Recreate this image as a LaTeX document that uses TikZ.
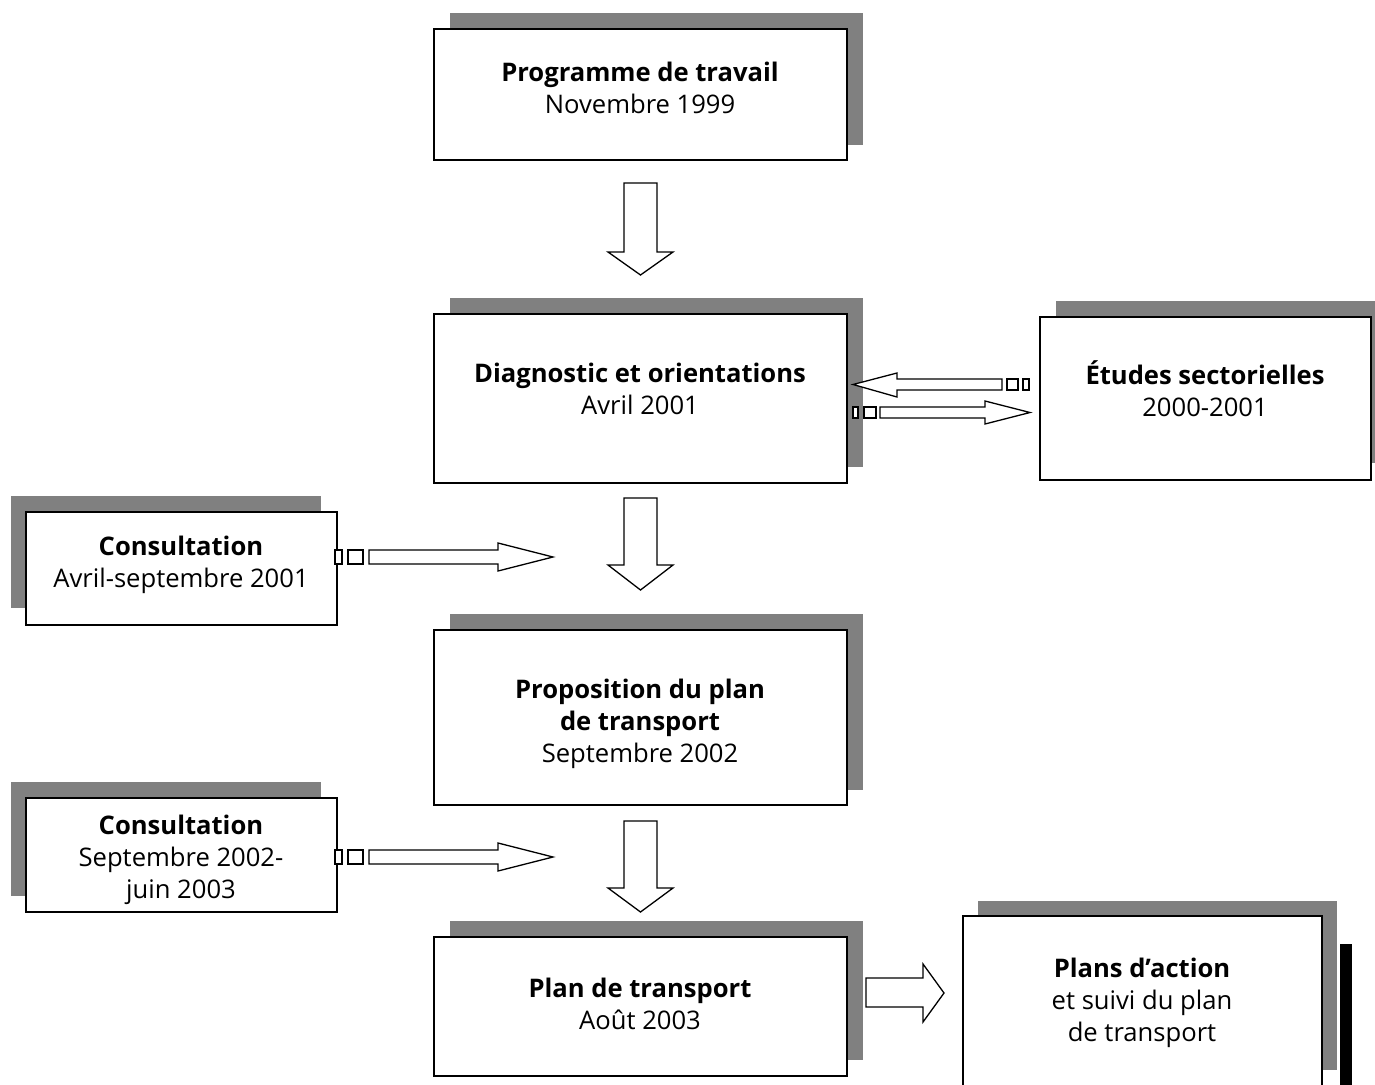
\documentclass[tikz,border=0pt]{standalone}
\usepackage{fontspec}
\setmainfont{Open Sans}
\begin{document}
\begin{tikzpicture}[x=1pt,y=-1pt,
  box/.style={draw=black,line width=1.6pt,fill=white,inner sep=0pt},
  shade/.style={fill=black!50},
  lbl/.style={align=center,font=\fontsize{25.6}{32}\selectfont,inner sep=0pt},
  blk/.style={draw=black,line width=1.3pt,fill=white,line join=miter}]
\clip (0,0) rectangle (1375,1084);
\fill[white] (0,0) rectangle (1375,1084);
% shadows
\fill[shade] (450,13) rectangle (863,145);
\fill[shade] (450,298) rectangle (863,467);
\fill[shade] (1056,301) rectangle (1390,463);
\fill[shade] (11,496) rectangle (321,608);
\fill[shade] (450,614) rectangle (863,790);
\fill[shade] (11,782) rectangle (321,896);
\fill[shade] (450,921) rectangle (863,1060);
\fill[shade] (978,901) rectangle (1337,1070);
\fill[black] (1340,944) rectangle (1352,1090);
% boxes
\node[box,minimum width=413pt,minimum height=131pt] (b1) at (640.5,94.5) {};
\node[box,minimum width=413pt,minimum height=169pt] (b2) at (640.5,398.5) {};
\node[box,minimum width=331pt,minimum height=163pt] (b3) at (1205.5,398.5) {};
\node[box,minimum width=311pt,minimum height=113pt] (b4) at (181.5,568.5) {};
\node[box,minimum width=413pt,minimum height=175pt] (b5) at (640.5,717.5) {};
\node[box,minimum width=311pt,minimum height=114pt] (b6) at (181.5,855) {};
\node[box,minimum width=413pt,minimum height=139pt] (b7) at (640.5,1006.5) {};
\node[box,minimum width=359pt,minimum height=190pt] (b8) at (1142.5,1011) {};
% labels
\node[lbl] (t1) at (640,87.5) {\textbf{Programme de travail}\\Novembre 1999};
\node[lbl] (t2) at (640,388.5) {\textbf{Diagnostic et orientations}\\Avril 2001};
\node[lbl] (t3) at (1205,389) {\textbf{Études sectorielles}\\2000-2001};
\node[lbl] (t4) at (181,565) {\textbf{Consultation}\\Avril-septembre 2001};
\node[lbl] (t5) at (640,724) {\textbf{Proposition du plan}\\\textbf{de transport}\\Septembre 2002};
\node[lbl] (t6) at (181,860) {\textbf{Consultation}\\Septembre 2002-\\juin 2003};
\node[lbl] (t7) at (640,1004) {\textbf{Plan de transport}\\Août 2003};
\node[lbl] (t8) at (1142,1002.5) {\textbf{Plans d’action}\\et suivi du plan\\de transport};
% down block arrows
\foreach \T/\H/\B in {183/252/275, 498/565/590, 821/888/912}{
  \draw[blk] (624,\T) -- (657,\T) -- (657,\H) -- (673,\H) -- (640.5,\B) -- (608,\H) -- (624,\H) -- cycle;
}
% consultation arrows
\foreach \c in {557,857}{
  \draw[blk] (335,\c-7) rectangle (342,\c+7);
  \draw[blk] (348,\c-7) rectangle (363,\c+7);
  \draw[blk] (369,\c-7) -- (498,\c-7) -- (498,\c-14) -- (553,\c) -- (498,\c+14) -- (498,\c+7) -- (369,\c+7) -- cycle;
}
% etudes arrows
\draw[blk] (853,384.5) -- (897,373) -- (897,379) -- (1002,379) -- (1002,390) -- (897,390) -- (897,397) -- cycle;
\draw[blk] (1007,379) rectangle (1018,390);
\draw[blk] (1023,379) rectangle (1029,390);
\draw[blk] (853,407) rectangle (858,418);
\draw[blk] (864,407) rectangle (876,418);
\draw[blk] (880,407) -- (985,407) -- (985,401) -- (1030,412.5) -- (985,424) -- (985,418) -- (880,418) -- cycle;
% bottom arrow
\draw[blk] (866,978) -- (923,978) -- (923,964) -- (944,993) -- (923,1022) -- (923,1007) -- (866,1007) -- cycle;
\end{tikzpicture}
\end{document}
